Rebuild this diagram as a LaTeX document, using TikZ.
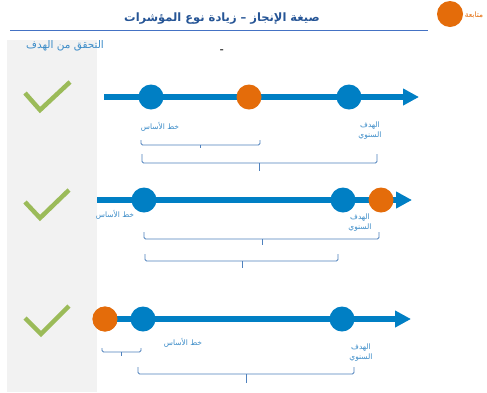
\documentclass[tikz,border=0pt]{standalone}
\usepackage{fontspec}
\usetikzlibrary{arrows.meta}
\TeXXeTstate=1
\newfontfamily\arabicfont[Script=Arabic]{DejaVu Sans}
\definecolor{blueC}{RGB}{0,127,196}
\definecolor{orangeC}{RGB}{228,108,10}
\definecolor{greenC}{RGB}{155,187,89}
\definecolor{panelC}{RGB}{242,242,242}
\definecolor{titleC}{RGB}{38,85,150}
\definecolor{ruleC}{RGB}{68,114,196}
\definecolor{brcC}{RGB}{79,129,189}
\definecolor{lblC}{RGB}{60,140,200}
\newcommand\mybrace[6]{\draw[brc] (#1,#3) -- (#1,#4) -- (#2,#4) -- (#2,#3); \draw[brc] (#5,#4) -- (#5,#6);}
\begin{document}
\begin{tikzpicture}[x=1pt,y=-1pt,
  bdot/.style={circle,fill=blueC,minimum size=25pt,inner sep=0pt},
  odot/.style={circle,fill=orangeC,minimum size=25pt,inner sep=0pt},
  axis/.style={draw=blueC,line width=5.5pt,-{Triangle[length=16pt,width=16pt]}},
  chk/.style={draw=greenC,line width=4.5pt},
  brc/.style={draw=brcC,line width=0.8pt,rounded corners=1.5pt},
  lbl/.style={text=lblC,font=\arabicfont\fontsize{7.5}{10}\selectfont,align=center,inner sep=0pt}]
\useasboundingbox (0,0) rectangle (487,392);
\fill[white] (0,0) rectangle (487,392);
% panel
\fill[panelC] (7,40) rectangle (97,392);
% title
\node[text=titleC,font=\arabicfont\bfseries\fontsize{11.5}{13}\selectfont,inner sep=0pt] (title) at (222,19) {\beginR صيغة الإنجاز – زيادة نوع المؤشرات\endR};
\coordinate (r1) at (10,30.5);
\coordinate (r2) at (428,30.5);
\draw[ruleC,line width=1.8pt] (r1) -- (r2);
\node[odot,minimum size=26pt] (leg) at (450,14) {};
\node[text=orangeC,font=\arabicfont\fontsize{7.5}{9}\selectfont,inner sep=0pt] (legt) at (474,15) {\beginR متابعة\endR};
\node[text=lblC,font=\arabicfont\fontsize{10.5}{12}\selectfont,inner sep=0pt] (verify) at (65,46) {\beginR التحقق من الهدف\endR};
\node[font=\bfseries\fontsize{10}{10}\selectfont,inner sep=0pt] (dash) at (222,51) {-};
% checks
\draw[chk] (25,93) -- (40,110) -- (70,82);
\draw[chk] (25,202) -- (40,218) -- (69,190);
\draw[chk] (25,318) -- (41,334) -- (69,306);
% row 1
\coordinate (s1) at (104,97);
\coordinate (e1) at (419,97);
\draw[axis] (s1) -- (e1);
\node[bdot] (b11) at (151,97) {};
\node[odot] (o11) at (249,97) {};
\node[bdot] (b12) at (349,97) {};
\node[lbl] (l11) at (160,127) {\beginR خط الأساس\endR};
\node[lbl] (l12) at (370,131) {\beginR الهدف\endR\\\beginR السنوي\endR};
\mybrace{141}{260}{140}{145}{200}{148}
\mybrace{142}{377}{154}{163}{259}{171}
% row 2
\coordinate (s2) at (97,200);
\coordinate (e2) at (412,200);
\draw[axis] (s2) -- (e2);
\node[bdot] (b21) at (144,200) {};
\node[bdot] (b22) at (343,200) {};
\node[odot] (o21) at (381,200) {};
\node[lbl] (l21) at (115,215) {\beginR خط الأساس\endR};
\node[lbl] (l22) at (360,223) {\beginR الهدف\endR\\\beginR السنوي\endR};
\mybrace{144}{379}{232}{239}{262}{245}
\mybrace{145}{338}{254}{261}{242}{268}
% row 3
\node[odot] (o31) at (105,319) {};
\coordinate (e3) at (411,319);
\draw[axis] (o31.center) -- (e3);
\node[odot] (o31b) at (105,319) {};
\node[bdot] (b31) at (143,319) {};
\node[bdot] (b32) at (342,319) {};
\node[lbl] (l31) at (183,343) {\beginR خط الأساس\endR};
\node[lbl] (l32) at (361,353) {\beginR الهدف\endR\\\beginR السنوي\endR};
\mybrace{102}{141}{348}{352}{121}{356}
\mybrace{138}{354}{367}{374}{246}{383}
\end{tikzpicture}
\end{document}
